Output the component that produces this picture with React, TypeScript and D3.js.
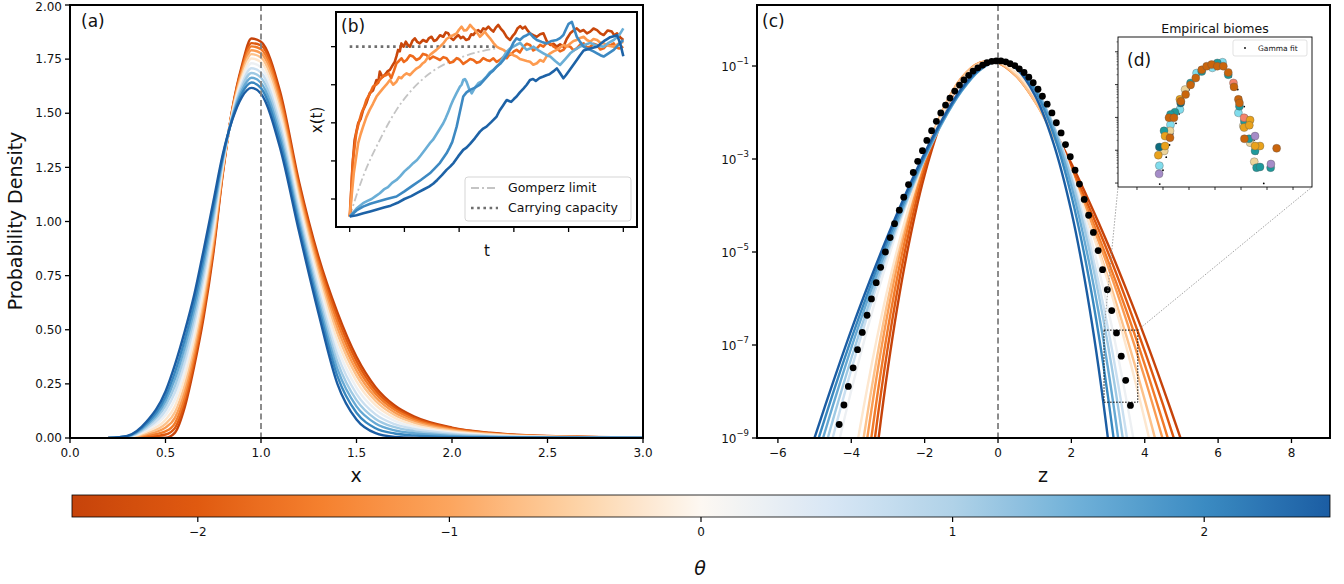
import React from 'react';
import * as d3 from 'd3';

// ---------------- colour map (theta) ----------------
const CMAP_THETA = [-2.5, -2, -1.5, -1, -0.5, 0, 0.5, 1, 1.5, 2, 2.5];
const CMAP_COLORS = ['#c6430a', '#e05a10', '#f5812f', '#fca55e', '#fdd2a5', '#fdf8f2', '#d9e7f5', '#b0d2e8', '#6fb0d8', '#3b8bc2', '#1b5da3'];
const CB_TICKS = [-2, -1, 0, 1, 2];

// ---------------- panel (a) ----------------
const THETA = [-2.5, -2.045, -1.591, -1.136, -0.682, -0.227, 0.227, 0.682, 1.136, 1.591, 2.045, 2.5];
const A_X = [0.2, 0.3, 0.4, 0.5, 0.55, 0.6, 0.65, 0.7, 0.75, 0.8, 0.85, 0.9, 0.95, 1.0, 1.1, 1.2, 1.3, 1.4, 1.5, 1.6, 1.7, 1.8, 2.0, 2.2, 2.5, 3.0];
const DENS_0 = [0, 0, 0, 0.001, 0.025, 0.14, 0.33, 0.56, 0.85, 1.22, 1.52, 1.72, 1.845, 1.83, 1.60, 1.18, 0.84, 0.58, 0.375, 0.235, 0.15, 0.10, 0.048, 0.024, 0.009, 0.002];
const DENS_1 = [0, 0.001, 0.005, 0.016, 0.047, 0.165, 0.353, 0.582, 0.867, 1.226, 1.517, 1.710, 1.824, 1.813, 1.582, 1.164, 0.822, 0.557, 0.355, 0.220, 0.140, 0.093, 0.045, 0.022, 0.008, 0.002];
const DENS_2 = [0, 0.001, 0.011, 0.031, 0.069, 0.189, 0.376, 0.603, 0.884, 1.233, 1.513, 1.700, 1.809, 1.796, 1.564, 1.148, 0.804, 0.534, 0.334, 0.205, 0.130, 0.086, 0.041, 0.021, 0.008, 0.002];
const DENS_3 = [0, 0.002, 0.017, 0.048, 0.094, 0.217, 0.403, 0.628, 0.903, 1.240, 1.509, 1.688, 1.791, 1.777, 1.543, 1.129, 0.783, 0.507, 0.311, 0.188, 0.118, 0.078, 0.037, 0.019, 0.007, 0.002];
const DENS_4 = [0, 0.003, 0.023, 0.065, 0.120, 0.245, 0.429, 0.653, 0.922, 1.247, 1.505, 1.677, 1.773, 1.758, 1.522, 1.111, 0.762, 0.481, 0.288, 0.171, 0.106, 0.070, 0.034, 0.017, 0.006, 0.001];
const DENS_5 = [0, 0.004, 0.029, 0.084, 0.148, 0.277, 0.459, 0.681, 0.944, 1.255, 1.500, 1.663, 1.753, 1.736, 1.499, 1.090, 0.739, 0.451, 0.262, 0.152, 0.093, 0.061, 0.029, 0.015, 0.005, 0.001];
const DENS_6 = [0, 0.005, 0.037, 0.106, 0.179, 0.312, 0.492, 0.712, 0.968, 1.264, 1.495, 1.649, 1.731, 1.712, 1.473, 1.067, 0.713, 0.418, 0.233, 0.131, 0.079, 0.051, 0.024, 0.012, 0.005, 0.001];
const DENS_7 = [0, 0.006, 0.044, 0.127, 0.211, 0.347, 0.525, 0.743, 0.992, 1.273, 1.490, 1.634, 1.708, 1.688, 1.447, 1.044, 0.687, 0.385, 0.204, 0.109, 0.064, 0.042, 0.020, 0.010, 0.004, 0.001];
const DENS_8 = [0, 0.007, 0.052, 0.149, 0.242, 0.382, 0.558, 0.774, 1.016, 1.282, 1.485, 1.620, 1.686, 1.664, 1.421, 1.021, 0.661, 0.352, 0.175, 0.088, 0.050, 0.032, 0.015, 0.007, 0.003, 0.001];
const DENS_9 = [0, 0.008, 0.059, 0.170, 0.274, 0.417, 0.591, 0.805, 1.040, 1.291, 1.480, 1.605, 1.664, 1.640, 1.395, 0.998, 0.635, 0.319, 0.146, 0.067, 0.035, 0.022, 0.010, 0.005, 0.002, 0];
const DENS_10 = [0, 0.009, 0.067, 0.191, 0.305, 0.452, 0.624, 0.836, 1.064, 1.300, 1.475, 1.591, 1.642, 1.616, 1.369, 0.975, 0.609, 0.286, 0.117, 0.045, 0.021, 0.012, 0.005, 0.003, 0.001, 0];
const DENS_11 = [0, 0.01, 0.075, 0.215, 0.34, 0.49, 0.66, 0.87, 1.09, 1.31, 1.47, 1.575, 1.617, 1.59, 1.34, 0.95, 0.58, 0.25, 0.085, 0.022, 0.005, 0.001, 0, 0, 0, 0];
const DENSITIES = [DENS_0, DENS_1, DENS_2, DENS_3, DENS_4, DENS_5, DENS_6, DENS_7, DENS_8, DENS_9, DENS_10, DENS_11];
const A_XTICKS = [0, 0.5, 1, 1.5, 2, 2.5, 3];
const A_YTICKS = [0, 0.25, 0.5, 0.75, 1, 1.25, 1.5, 1.75, 2];

// ---------------- panel (b): trajectories as [t, x(t)] ----------------
const B_XTICKS = [0, 0.2, 0.4, 0.6, 0.8, 1.0];
const B_YTICKS = [0.2, 0.4, 0.6, 0.8, 1.0];
const TR_DO: [number, number][] = [[0, 0.108], [0.002, 0.125], [0.01, 0.37], [0.018, 0.51], [0.031, 0.598], [0.04, 0.62], [0.049, 0.667], [0.06, 0.70], [0.073, 0.755], [0.085, 0.77], [0.098, 0.825], [0.104, 0.81], [0.11, 0.869], [0.12, 0.84], [0.128, 0.851], [0.138, 0.87], [0.147, 0.878], [0.156, 0.90], [0.165, 0.921], [0.171, 0.95], [0.177, 0.983], [0.183, 0.975], [0.189, 1.017], [0.197, 1.0], [0.205, 1.026], [0.212, 1.01], [0.22, 1.0], [0.229, 1.03], [0.238, 1.044], [0.247, 1.025], [0.256, 1.017], [0.268, 1.035], [0.281, 1.026], [0.29, 1.045], [0.299, 1.052], [0.308, 1.03], [0.317, 1.035], [0.33, 1.06], [0.342, 1.052], [0.351, 1.075], [0.36, 1.07], [0.37, 1.045], [0.379, 1.035], [0.388, 1.05], [0.397, 1.061], [0.406, 1.045], [0.415, 1.052], [0.425, 1.035], [0.435, 1.04], [0.444, 1.065], [0.452, 1.061], [0.461, 1.08], [0.47, 1.087], [0.479, 1.075], [0.488, 1.096], [0.497, 1.09], [0.507, 1.105], [0.516, 1.09], [0.525, 1.079], [0.534, 1.1], [0.543, 1.114], [0.552, 1.095], [0.562, 1.079], [0.574, 1.05], [0.586, 1.035], [0.595, 1.055], [0.604, 1.07], [0.613, 1.095], [0.623, 1.108], [0.632, 1.095], [0.641, 1.105], [0.65, 1.085], [0.659, 1.07], [0.671, 1.06], [0.684, 1.052], [0.696, 1.065], [0.708, 1.07], [0.72, 1.03], [0.733, 1.009], [0.745, 1.015], [0.757, 1.0], [0.769, 1.012], [0.781, 1.0], [0.793, 1.04], [0.806, 1.07], [0.818, 1.085], [0.83, 1.096], [0.842, 1.08], [0.855, 1.087], [0.867, 1.07], [0.879, 1.079], [0.891, 1.095], [0.904, 1.087], [0.916, 1.07], [0.928, 1.061], [0.943, 1.085], [0.958, 1.079], [0.967, 1.06], [0.977, 1.07], [0.988, 1.05], [1.0, 1.035]];
const TR_MO: [number, number][] = [[0, 0.108], [0.012, 0.405], [0.024, 0.545], [0.033, 0.60], [0.043, 0.65], [0.052, 0.68], [0.061, 0.72], [0.073, 0.75], [0.085, 0.79], [0.097, 0.80], [0.11, 0.825], [0.122, 0.845], [0.134, 0.851], [0.143, 0.86], [0.152, 0.835], [0.161, 0.87], [0.171, 0.913], [0.18, 0.925], [0.189, 0.939], [0.198, 0.92], [0.208, 0.93], [0.22, 0.955], [0.232, 0.948], [0.244, 0.93], [0.256, 0.939], [0.268, 0.962], [0.281, 0.956], [0.293, 0.935], [0.305, 0.948], [0.317, 0.94], [0.33, 0.93], [0.342, 0.945], [0.354, 0.939], [0.366, 0.915], [0.379, 0.921], [0.391, 0.94], [0.403, 0.93], [0.415, 0.91], [0.427, 0.921], [0.44, 0.935], [0.452, 0.93], [0.464, 0.915], [0.476, 0.921], [0.488, 0.94], [0.50, 0.93], [0.512, 0.925], [0.525, 0.939], [0.537, 0.92], [0.549, 0.93], [0.561, 0.945], [0.574, 0.939], [0.582, 0.955], [0.59, 0.96], [0.60, 0.975], [0.61, 0.983], [0.622, 0.97], [0.635, 1.0], [0.647, 1.015], [0.659, 1.009], [0.671, 0.98], [0.684, 0.991], [0.696, 1.01], [0.708, 1.0], [0.72, 1.02], [0.733, 1.017], [0.745, 1.0], [0.757, 0.991], [0.769, 0.975], [0.781, 0.983], [0.793, 1.005], [0.806, 1.0], [0.818, 0.98], [0.83, 0.991], [0.842, 1.01], [0.855, 1.017], [0.867, 0.995], [0.879, 1.0], [0.891, 1.015], [0.904, 1.009], [0.916, 0.985], [0.928, 0.991], [0.94, 1.01], [0.95, 1.005], [0.965, 1.017], [0.975, 0.995], [0.985, 0.99], [1.0, 1.0]];
const TR_LO: [number, number][] = [[0, 0.108], [0.015, 0.335], [0.031, 0.493], [0.04, 0.54], [0.049, 0.58], [0.061, 0.63], [0.073, 0.668], [0.085, 0.70], [0.098, 0.738], [0.11, 0.76], [0.122, 0.781], [0.134, 0.80], [0.147, 0.825], [0.159, 0.80], [0.171, 0.816], [0.18, 0.84], [0.189, 0.834], [0.198, 0.85], [0.208, 0.86], [0.22, 0.85], [0.232, 0.869], [0.244, 0.885], [0.256, 0.895], [0.265, 0.91], [0.275, 0.921], [0.284, 0.94], [0.293, 0.956], [0.305, 0.97], [0.317, 0.983], [0.33, 1.0], [0.342, 1.017], [0.354, 1.04], [0.366, 1.052], [0.378, 1.06], [0.391, 1.07], [0.4, 1.09], [0.409, 1.105], [0.418, 1.085], [0.427, 1.087], [0.434, 1.1], [0.44, 1.114], [0.449, 1.1], [0.458, 1.087], [0.467, 1.07], [0.476, 1.052], [0.485, 1.065], [0.494, 1.079], [0.503, 1.06], [0.513, 1.044], [0.525, 1.02], [0.537, 1.0], [0.55, 0.99], [0.562, 0.983], [0.574, 0.97], [0.586, 0.965], [0.598, 0.955], [0.61, 0.948], [0.622, 0.935], [0.635, 0.93], [0.647, 0.925], [0.659, 0.921], [0.671, 0.905], [0.684, 0.913], [0.696, 0.93], [0.708, 0.921], [0.72, 0.95], [0.733, 0.965], [0.745, 0.975], [0.757, 0.983], [0.769, 0.995], [0.781, 1.009], [0.793, 1.0], [0.806, 1.017], [0.818, 1.03], [0.83, 1.035], [0.842, 1.045], [0.855, 1.052], [0.867, 1.035], [0.879, 1.026], [0.891, 1.04], [0.904, 1.035], [0.916, 1.02], [0.928, 1.017], [0.945, 1.005], [0.965, 1.0], [0.982, 1.015], [1.0, 1.026]];
const TR_LB: [number, number][] = [[0, 0.108], [0.025, 0.15], [0.049, 0.178], [0.065, 0.19], [0.08, 0.2], [0.095, 0.215], [0.11, 0.23], [0.125, 0.25], [0.14, 0.262], [0.155, 0.285], [0.171, 0.30], [0.185, 0.32], [0.2, 0.345], [0.216, 0.365], [0.232, 0.388], [0.246, 0.405], [0.26, 0.43], [0.276, 0.46], [0.293, 0.493], [0.304, 0.51], [0.315, 0.535], [0.328, 0.565], [0.342, 0.598], [0.351, 0.625], [0.36, 0.655], [0.369, 0.69], [0.378, 0.72], [0.39, 0.755], [0.403, 0.79], [0.409, 0.80], [0.415, 0.825], [0.421, 0.83], [0.427, 0.816], [0.436, 0.78], [0.446, 0.755], [0.458, 0.785], [0.47, 0.808], [0.485, 0.82], [0.50, 0.843], [0.512, 0.865], [0.525, 0.878], [0.537, 0.895], [0.549, 0.913], [0.561, 0.945], [0.574, 0.974], [0.586, 0.99], [0.598, 1.0], [0.61, 1.01], [0.623, 1.02], [0.635, 1.0], [0.647, 0.983], [0.659, 0.99], [0.672, 1.0], [0.69, 0.98], [0.708, 0.965], [0.72, 0.955], [0.733, 0.948], [0.751, 0.925], [0.769, 0.904], [0.788, 0.935], [0.806, 0.965], [0.824, 0.985], [0.842, 1.0], [0.86, 1.01], [0.879, 1.02], [0.903, 1.005], [0.928, 1.0], [0.946, 1.02], [0.965, 1.035], [0.977, 1.05], [0.989, 1.07], [1.0, 1.096]];
const TR_MB: [number, number][] = [[0, 0.108], [0.025, 0.14], [0.049, 0.16], [0.075, 0.175], [0.1, 0.185], [0.135, 0.20], [0.171, 0.213], [0.2, 0.24], [0.23, 0.27], [0.26, 0.30], [0.293, 0.335], [0.31, 0.36], [0.33, 0.39], [0.342, 0.415], [0.354, 0.44], [0.365, 0.47], [0.375, 0.50], [0.383, 0.54], [0.391, 0.58], [0.403, 0.66], [0.415, 0.738], [0.427, 0.76], [0.44, 0.773], [0.458, 0.785], [0.476, 0.80], [0.494, 0.83], [0.513, 0.86], [0.525, 0.875], [0.537, 0.895], [0.55, 0.91], [0.562, 0.93], [0.574, 0.955], [0.586, 0.983], [0.598, 1.02], [0.61, 1.044], [0.622, 1.035], [0.635, 1.052], [0.647, 1.06], [0.659, 1.07], [0.671, 1.05], [0.684, 1.035], [0.702, 1.025], [0.72, 1.017], [0.738, 1.03], [0.757, 1.035], [0.769, 1.045], [0.781, 1.061], [0.79, 1.09], [0.80, 1.12], [0.812, 1.13], [0.821, 1.09], [0.83, 1.052], [0.842, 1.025], [0.855, 1.0], [0.867, 0.99], [0.879, 0.983], [0.891, 0.975], [0.904, 0.965], [0.916, 0.955], [0.928, 0.948], [0.946, 0.965], [0.965, 0.983], [0.982, 1.01], [1.0, 1.035]];
const TR_DB: [number, number][] = [[0, 0.108], [0.025, 0.115], [0.05, 0.125], [0.075, 0.135], [0.1, 0.145], [0.125, 0.155], [0.15, 0.165], [0.175, 0.18], [0.2, 0.2], [0.225, 0.215], [0.25, 0.235], [0.27, 0.25], [0.29, 0.265], [0.305, 0.28], [0.32, 0.30], [0.337, 0.325], [0.354, 0.353], [0.367, 0.37], [0.38, 0.39], [0.397, 0.425], [0.415, 0.458], [0.427, 0.47], [0.44, 0.49], [0.458, 0.52], [0.476, 0.554], [0.488, 0.57], [0.50, 0.58], [0.518, 0.605], [0.537, 0.633], [0.548, 0.665], [0.56, 0.69], [0.567, 0.705], [0.574, 0.72], [0.582, 0.715], [0.59, 0.71], [0.6, 0.725], [0.61, 0.738], [0.622, 0.76], [0.635, 0.78], [0.647, 0.80], [0.659, 0.825], [0.67, 0.83], [0.68, 0.82], [0.694, 0.835], [0.708, 0.843], [0.719, 0.85], [0.73, 0.855], [0.744, 0.87], [0.757, 0.886], [0.769, 0.86], [0.781, 0.834], [0.79, 0.85], [0.80, 0.87], [0.815, 0.9], [0.83, 0.93], [0.842, 0.955], [0.855, 0.98], [0.867, 0.985], [0.88, 0.99], [0.892, 0.995], [0.904, 1.0], [0.917, 1.015], [0.93, 1.03], [0.941, 1.04], [0.952, 1.05], [0.965, 1.055], [0.977, 1.06], [0.984, 1.035], [0.99, 1.01], [1.0, 0.95]];
const TRAJS = [TR_DO, TR_MO, TR_LO, TR_LB, TR_MB, TR_DB];
const TRAJ_COLORS = ['#c9470b', '#ee6a1c', '#fd9b50', '#6aaed6', '#3d89c2', '#1d62a6'];
const GOMP_T = [0, 0.049, 0.11, 0.171, 0.232, 0.293, 0.354, 0.415, 0.476, 0.537];
const GOMP_V = [0.108, 0.318, 0.51, 0.668, 0.781, 0.86, 0.913, 0.948, 0.974, 0.991];
const CAP_T = [0, 0.537];
const CAP_V = [1, 1];

// ---------------- panel (c) ----------------
const C_Z = [-5, -4.5, -4, -3.5, -3, -2.5, -2, -1.5, -1, -0.5, 0, 0.5, 1, 1.5, 2, 2.5, 3, 3.5, 4, 4.5, 5];
const LOGP_0 = [-27.1, -20.2, -14.82, -10.67, -7.49, -5.10, -3.34, -2.11, -1.33, -0.95, -0.92, -1.19, -1.68, -2.34, -3.10, -3.94, -4.84, -5.81, -6.83, -7.92, -9.06];
const LOGP_1 = [-24.3, -18.36, -13.62, -9.91, -7.03, -4.84, -3.20, -2.04, -1.30, -0.94, -0.92, -1.20, -1.71, -2.39, -3.19, -4.07, -5.01, -6.04, -7.13, -8.29, -9.51];
const LOGP_2 = [-22.1, -16.85, -12.62, -9.27, -6.64, -4.61, -3.07, -1.98, -1.27, -0.93, -0.93, -1.22, -1.75, -2.45, -3.27, -4.19, -5.19, -6.26, -7.42, -8.67, -9.98];
const LOGP_3 = [-19.84, -15.33, -11.64, -8.66, -6.28, -4.42, -2.99, -1.94, -1.26, -0.93, -0.93, -1.22, -1.75, -2.46, -3.31, -4.27, -5.32, -6.47, -7.71, -9.05, -10.48];
const LOGP_4 = [-17.96, -14.08, -10.85, -8.19, -6.02, -4.29, -2.94, -1.94, -1.27, -0.94, -0.92, -1.21, -1.75, -2.49, -3.39, -4.41, -5.55, -6.81, -8.18, -9.68, -11.29];
const LOGP_5 = [-15.64, -12.54, -9.89, -7.65, -5.76, -4.22, -2.97, -2.01, -1.33, -0.96, -0.91, -1.15, -1.66, -2.40, -3.32, -4.41, -5.65, -7.05, -8.61, -10.34, -12.23];
const LOGP_6 = [-11.46, -9.64, -7.98, -6.48, -5.15, -3.98, -2.96, -2.11, -1.46, -1.04, -0.89, -1.04, -1.50, -2.26, -3.30, -4.62, -6.23, -8.18, -10.48, -13.19, -16.33];
const LOGP_7 = [-10.54, -8.98, -7.53, -6.21, -5.01, -3.94, -2.98, -2.16, -1.51, -1.07, -0.89, -1.02, -1.47, -2.25, -3.36, -4.82, -6.65, -8.92, -11.68, -15.02, -18.99];
const LOGP_8 = [-10.03, -8.61, -7.29, -6.07, -4.94, -3.92, -3.00, -2.19, -1.54, -1.09, -0.89, -1.00, -1.45, -2.26, -3.43, -5.00, -7.01, -9.55, -12.71, -16.6, -21.3];
const LOGP_9 = [-9.61, -8.30, -7.06, -5.91, -4.85, -3.87, -2.97, -2.19, -1.55, -1.09, -0.89, -1.01, -1.47, -2.32, -3.58, -5.29, -7.51, -10.37, -13.98, -18.5, -24.1];
const LOGP_10 = [-9.28, -8.04, -6.87, -5.77, -4.74, -3.80, -2.93, -2.16, -1.53, -1.08, -0.89, -1.02, -1.52, -2.43, -3.79, -5.66, -8.12, -11.32, -15.3, -20.5, -27.1];
const LOGP_11 = [-8.99, -7.81, -6.68, -5.63, -4.64, -3.72, -2.87, -2.12, -1.49, -1.06, -0.89, -1.06, -1.62, -2.63, -4.13, -6.23, -9.03, -12.72, -17.5, -23.7, -31.6];
const LOGPS = [LOGP_0, LOGP_1, LOGP_2, LOGP_3, LOGP_4, LOGP_5, LOGP_6, LOGP_7, LOGP_8, LOGP_9, LOGP_10, LOGP_11];
const DOT_Z = [-4.33, -4.20, -4.08, -3.95, -3.83, -3.70, -3.57, -3.45, -3.32, -3.20, -3.07, -2.94, -2.82, -2.69, -2.57, -2.44, -2.31, -2.19, -2.06, -1.94, -1.81, -1.68, -1.56, -1.43, -1.31, -1.18, -1.05, -0.93, -0.80, -0.68, -0.55, -0.42, -0.30, -0.17, -0.05, 0.08, 0.21, 0.33, 0.46, 0.58, 0.71, 0.84, 0.96, 1.09, 1.21, 1.34, 1.47, 1.59, 1.72, 1.84, 1.97, 2.10, 2.22, 2.35, 2.47, 2.60, 2.73, 2.85, 2.98, 3.10, 3.23, 3.36, 3.48, 3.61];
const DOT_LOGP = [-8.71, -8.29, -7.89, -7.49, -7.10, -6.73, -6.36, -6.01, -5.66, -5.33, -5.00, -4.69, -4.39, -4.10, -3.82, -3.55, -3.29, -3.05, -2.82, -2.60, -2.39, -2.19, -2.01, -1.84, -1.69, -1.54, -1.41, -1.30, -1.20, -1.11, -1.04, -0.98, -0.93, -0.90, -0.89, -0.89, -0.91, -0.95, -0.99, -1.06, -1.14, -1.24, -1.36, -1.50, -1.65, -1.82, -2.01, -2.22, -2.44, -2.69, -2.95, -3.24, -3.54, -3.87, -4.21, -4.58, -4.97, -5.38, -5.81, -6.26, -6.74, -7.24, -7.76, -8.30];
const C_XTICKS = [-6, -4, -2, 0, 2, 4, 6, 8];
const C_YTICK_EXP = [-1, -3, -5, -7, -9];
const ZOOM_BOX_Z = [2.89, 3.81];
const ZOOM_BOX_LOGP = [-8.23, -6.68];

// ---------------- panel (d) ----------------
const D_X = [-2.14, -2.18, -2.14, -2.15, -1.92, -1.95, -1.96, -1.92, -1.73, -1.71, -1.73, -1.77, -1.58, -1.54, -1.71, -1.35, -1.35, -1.32, -1.31, -1.13, -1.15, -0.94, -0.94, -0.74, -0.71, -0.51, -0.51, -0.32, -0.10, -0.13, 0.09, 0.09, 0.29, 0.32, 0.51, 0.51, 0.71, 0.73, 0.90, 0.94, 0.94, 0.90, 1.12, 1.13, 1.09, 1.12, 1.13, 1.31, 1.35, 1.32, 1.54, 1.35, 1.73, 1.54, 1.51, 1.60, 1.73, 2.15, 2.14, 2.37, 1.54];
const D_LOGY = [-3.90, -4.15, -4.47, -4.72, -3.87, -4.02, -3.41, -3.57, -3.41, -3.23, -3.62, -3.01, -3.01, -2.84, -2.91, -2.76, -2.45, -2.56, -2.51, -2.30, -2.15, -1.95, -2.01, -1.80, -1.65, -1.55, -1.60, -1.44, -1.49, -1.39, -1.34, -1.44, -1.32, -1.44, -1.63, -1.70, -1.95, -2.07, -2.45, -2.56, -2.66, -2.86, -3.01, -3.11, -3.26, -3.31, -3.65, -3.65, -3.08, -3.24, -3.57, -3.77, -3.87, -4.02, -4.35, -4.53, -4.51, -4.42, -4.53, -3.94, -3.87];
const D_BIOME = ['darkteal', 'orange', 'lightcyan', 'purple', 'orange', 'tan', 'teal', 'orange', 'tan', 'lightcyan', 'darkorange', 'darkorange', 'darkorange', 'teal', 'teal', 'lightcyan', 'orange', 'darkteal', 'darkorange', 'darkorange', 'tan', 'teal', 'darkorange', 'darkorange', 'lightcyan', 'darkorange', 'teal', 'darkorange', 'lightcyan', 'darkorange', 'teal', 'darkorange', 'lightcyan', 'darkorange', 'darkorange', 'teal', 'salmon', 'darkorange', 'darkorange', 'darkorange', 'teal', 'lightcyan', 'salmon', 'teal', 'tan', 'orange', 'darkorange', 'teal', 'orange', 'orange', 'purple', 'tan', 'orange', 'teal', 'tan', 'teal', 'teal', 'purple', 'teal', 'darkorange', 'orange'];
const BIOME_ORDER = ['lightcyan', 'tan', 'teal', 'darkteal', 'purple', 'salmon', 'orange', 'darkorange'];
const BIOME_COLORS: Record<string, string> = {
  teal: '#1e9a9c', darkteal: '#0d6b7d', lightcyan: '#80dcec', orange: '#e9a21c',
  darkorange: '#c9650c', salmon: '#f4836a', tan: '#ecd49a', purple: '#a58cc8',
};
const GAMMA_X = [-2.125, -2.0, -1.875, -1.75, -1.625, -1.5, -1.375, -1.25, -1.125, -1.0, -0.875, -0.75, -0.625, -0.5, -0.375, -0.25, -0.125, 0, 0.125, 0.25, 0.375, 0.5, 0.625, 0.75, 0.875, 1.0, 1.125, 1.25, 1.375, 1.5, 1.625, 1.75, 1.875];
const GAMMA_LOGY = [-5.03, -4.61, -4.21, -3.84, -3.50, -3.18, -2.89, -2.62, -2.38, -2.16, -1.97, -1.81, -1.67, -1.55, -1.46, -1.40, -1.36, -1.35, -1.37, -1.42, -1.50, -1.61, -1.76, -1.94, -2.15, -2.39, -2.67, -2.98, -3.32, -3.69, -4.10, -4.54, -5.01];
const D_XTICKS = [-3, -2, -1, 0, 1, 2, 3];
const D_YTICK_EXP = [-1, -2, -3, -4, -5];

const FONT = 'DejaVu Sans, sans-serif';
const TXT = '#111';

const minus = (v: number) => (v < 0 ? '\u2212' + Math.abs(v) : String(v));

export default function App() {
  const cmap = d3.scaleLinear<string>().domain(CMAP_THETA).range(CMAP_COLORS).interpolate(d3.interpolateRgb);

  const xA = d3.scaleLinear().domain([0, 3]).range([70, 643]);
  const yA = d3.scaleLinear().domain([0, 2]).range([438, 5]);
  const xB = d3.scaleLinear().domain([-0.05, 1.05]).range([336, 637]);
  const yB = d3.scaleLinear().domain([0.053, 1.182]).range([227, 12]);
  const xC = d3.scaleLinear().domain([-6.57, 9.05]).range([757, 1330]);
  const yC = d3.scaleLog().domain([1e-9, Math.pow(10, 0.312)]).range([438, 5]);
  const xD = d3.scaleLinear().domain([-3.73, 3.73]).range([1118, 1312]);
  const yD = d3.scaleLog().domain([Math.pow(10, -5.12), Math.pow(10, -0.55)]).range([187, 37]);
  const xCb = d3.scaleLinear().domain([-2.5, 2.5]).range([72, 1330]);

  const lineA = d3.line<number>().x((_, j) => xA(A_X[j])).y((d) => yA(d)).curve(d3.curveMonotoneX);
  const lineC = d3.line<number>().x((_, j) => xC(C_Z[j])).y((d) => yC(Math.pow(10, d))).curve(d3.curveCatmullRom.alpha(0.5));
  const lineTraj = d3.line<[number, number]>().x((d) => xB(d[0])).y((d) => yB(d[1]));
  const lineRef = (T: number[], V: number[], smooth: boolean) => {
    const l = d3.line<number>().x((_, j) => xB(T[j])).y((d) => yB(d));
    return (smooth ? l.curve(d3.curveMonotoneX) : l)(V) || '';
  };

  const cbStops = d3.range(0, 41).map((k) => ({ off: (k / 40) * 100, c: cmap(-2.5 + (5 * k) / 40) }));

  const dPoints = D_X.map((x, i) => ({ x, y: D_LOGY[i], b: D_BIOME[i] }))
    .sort((a, b) => BIOME_ORDER.indexOf(a.b) - BIOME_ORDER.indexOf(b.b));

  const boxX0 = xC(ZOOM_BOX_Z[0]);
  const boxX1 = xC(ZOOM_BOX_Z[1]);
  const boxY0 = yC(Math.pow(10, ZOOM_BOX_LOGP[1]));
  const boxY1 = yC(Math.pow(10, ZOOM_BOX_LOGP[0]));

  const minorD: number[] = [];
  D_YTICK_EXP.forEach((e) => {
    for (let m = 2; m <= 9; m++) {
      const v = m * Math.pow(10, e);
      if (v < Math.pow(10, -0.55) && v > Math.pow(10, -5.12)) minorD.push(v);
    }
  });

  return (
    <svg width={1344} height={584} style={{ position: 'absolute', left: 0, top: 0, background: '#fff' }} fontFamily={FONT}>
      <defs>
        <clipPath id="clipA"><rect x={70} y={5} width={573} height={433} /></clipPath>
        <clipPath id="clipC"><rect x={757} y={5} width={573} height={433} /></clipPath>
        <clipPath id="clipB"><rect x={336} y={12} width={301} height={215} /></clipPath>
        <linearGradient id="cbGrad" x1="0" x2="1" y1="0" y2="0">
          {cbStops.map((s, i) => <stop key={i} offset={`${s.off}%`} stopColor={s.c} />)}
        </linearGradient>
      </defs>
      <rect x={0} y={0} width={1344} height={584} fill="#fff" />

      {/* ================= panel (a) ================= */}
      <g clipPath="url(#clipA)">
        {DENSITIES.map((arr, i) => (
          <path key={i} d={lineA(arr) || ''} fill="none" stroke={cmap(THETA[i])} strokeWidth={2.4} />
        ))}
        <line x1={xA(1)} x2={xA(1)} y1={5} y2={438} stroke="#808080" strokeWidth={1.8} strokeDasharray="6,3.5" />
      </g>
      <rect x={70} y={5} width={573} height={433} fill="none" stroke="#000" strokeWidth={2} />
      {A_XTICKS.map((t) => (
        <g key={t}>
          <line x1={xA(t)} x2={xA(t)} y1={438} y2={443} stroke="#000" strokeWidth={1.3} />
          <text x={xA(t)} y={457} fontSize={12} textAnchor="middle" fill={TXT}>{t.toFixed(1)}</text>
        </g>
      ))}
      {A_YTICKS.map((t) => (
        <g key={t}>
          <line x1={65} x2={70} y1={yA(t)} y2={yA(t)} stroke="#000" strokeWidth={1.3} />
          <text x={62} y={Math.max(yA(t), 7)} dy="0.35em" fontSize={12} textAnchor="end" fill={TXT}>{t.toFixed(2)}</text>
        </g>
      ))}
      <text x={356} y={482} fontSize={19} textAnchor="middle" fill={TXT}>x</text>
      <text transform="translate(22,221) rotate(-90)" fontSize={19} textAnchor="middle" fill={TXT}>Probability Density</text>
      <text x={81} y={27} fontSize={17} fill={TXT}>(a)</text>

      {/* ================= panel (b) inset ================= */}
      <rect x={336} y={12} width={301} height={215} fill="#fff" />
      <g clipPath="url(#clipB)">
        <path d={lineRef(GOMP_T, GOMP_V, true)} fill="none" stroke="#c4c4c4" strokeWidth={1.8} strokeDasharray="8,3,2,3" />
        <path d={lineRef(CAP_T, CAP_V, false)} fill="none" stroke="#6e6e6e" strokeWidth={2.6} strokeDasharray="2.6,3.6" />
        {TRAJS.map((tr, i) => (
          <path key={i} d={lineTraj(tr) || ''} fill="none" stroke={TRAJ_COLORS[i]} strokeWidth={2.6} strokeLinejoin="round" />
        ))}
      </g>
      <rect x={336} y={12} width={301} height={215} fill="none" stroke="#000" strokeWidth={2} />
      {B_XTICKS.map((t) => (
        <line key={t} x1={xB(t)} x2={xB(t)} y1={227} y2={232} stroke="#000" strokeWidth={1.3} />
      ))}
      {B_YTICKS.map((t) => (
        <line key={t} x1={331} x2={336} y1={yB(t)} y2={yB(t)} stroke="#000" strokeWidth={1.3} />
      ))}
      <text transform="translate(322,120) rotate(-90)" fontSize={15} textAnchor="middle" fill={TXT}>x(t)</text>
      <text x={487} y={256} fontSize={15} textAnchor="middle" fill={TXT}>t</text>
      <text x={341} y={32} fontSize={17} fill={TXT}>(b)</text>
      <rect x={465} y={177} width={166} height={44} rx={3} fill="#fff" fillOpacity={0.85} stroke="#d0d0d0" strokeWidth={0.9} />
      <line x1={471} x2={498} y1={188} y2={188} stroke="#c4c4c4" strokeWidth={1.8} strokeDasharray="8,3,2,3" />
      <text x={508} y={188} dy="0.35em" fontSize={12.5} fill={TXT}>Gomperz limit</text>
      <line x1={471} x2={498} y1={208} y2={208} stroke="#6e6e6e" strokeWidth={2.6} strokeDasharray="2.6,3.6" />
      <text x={508} y={208} dy="0.35em" fontSize={12.5} fill={TXT}>Carrying capacity</text>

      {/* ================= panel (c) ================= */}
      <g clipPath="url(#clipC)">
        {LOGPS.map((arr, i) => (
          <path key={i} d={lineC(arr) || ''} fill="none" stroke={cmap(THETA[i])} strokeWidth={2.4} />
        ))}
        <line x1={xC(0)} x2={xC(0)} y1={5} y2={438} stroke="#808080" strokeWidth={1.8} strokeDasharray="6,3.5" />
        {DOT_Z.map((z, i) => (
          <circle key={i} cx={xC(z)} cy={yC(Math.pow(10, DOT_LOGP[i]))} r={3.4} fill="#000" />
        ))}
        <rect x={boxX0} y={boxY0} width={boxX1 - boxX0} height={boxY1 - boxY0} fill="none" stroke="#000" strokeWidth={1} strokeDasharray="1.5,1.5" />
      </g>
      <line x1={boxX0} y1={boxY0} x2={1118} y2={187} stroke="#8a8a8a" strokeWidth={0.8} strokeDasharray="1.5,1.5" />
      <line x1={boxX1} y1={boxY0} x2={1312} y2={187} stroke="#8a8a8a" strokeWidth={0.8} strokeDasharray="1.5,1.5" />
      <rect x={757} y={5} width={573} height={433} fill="none" stroke="#000" strokeWidth={2} />
      {C_XTICKS.map((t) => (
        <g key={t}>
          <line x1={xC(t)} x2={xC(t)} y1={438} y2={443} stroke="#000" strokeWidth={1.3} />
          <text x={xC(t)} y={457} fontSize={12} textAnchor="middle" fill={TXT}>{minus(t)}</text>
        </g>
      ))}
      {C_YTICK_EXP.map((e) => (
        <g key={e}>
          <line x1={752} x2={757} y1={yC(Math.pow(10, e))} y2={yC(Math.pow(10, e))} stroke="#000" strokeWidth={1.3} />
          <text x={749} y={yC(Math.pow(10, e)) + 5} fontSize={12} textAnchor="end" fill={TXT}>
            10<tspan fontSize={8.5} dy={-7}>{minus(e)}</tspan>
          </text>
        </g>
      ))}
      <text x={1043} y={482} fontSize={19} textAnchor="middle" fill={TXT}>z</text>
      <text x={762} y={27} fontSize={17} fill={TXT}>(c)</text>

      {/* ================= panel (d) inset ================= */}
      <rect x={1118} y={37} width={194} height={150} fill="#fff" stroke="#000" strokeWidth={0.9} />
      {GAMMA_X.map((x, i) => (
        <circle key={i} cx={xD(x)} cy={yD(Math.pow(10, GAMMA_LOGY[i]))} r={0.9} fill="#000" />
      ))}
      {dPoints.map((p, i) => (
        <circle key={i} cx={xD(p.x)} cy={yD(Math.pow(10, p.y))} r={4} fill={BIOME_COLORS[p.b]} stroke="#555" strokeWidth={0.35} />
      ))}
      {D_XTICKS.map((t) => (
        <line key={t} x1={xD(t)} x2={xD(t)} y1={187} y2={190} stroke="#000" strokeWidth={0.8} />
      ))}
      {D_YTICK_EXP.map((e) => (
        <line key={e} x1={1115} x2={1118} y1={yD(Math.pow(10, e))} y2={yD(Math.pow(10, e))} stroke="#000" strokeWidth={0.8} />
      ))}
      {minorD.map((v, i) => (
        <line key={i} x1={1116.5} x2={1118} y1={yD(v)} y2={yD(v)} stroke="#000" strokeWidth={0.5} />
      ))}
      <text x={1215} y={33} fontSize={12.5} textAnchor="middle" fill={TXT}>Empirical biomes</text>
      <text x={1127} y={66} fontSize={17} fill={TXT}>(d)</text>
      <rect x={1233} y={40} width={74} height={16} rx={2} fill="#fff" stroke="#d6d6d6" strokeWidth={0.7} />
      <circle cx={1245} cy={48} r={0.9} fill="#000" />
      <text x={1258} y={48} dy="0.35em" fontSize={7.5} fill={TXT}>Gamma fit</text>

      {/* ================= colour bar ================= */}
      <rect x={72} y={495} width={1258} height={22} fill="url(#cbGrad)" stroke="#000" strokeWidth={0.8} />
      {CB_TICKS.map((t) => (
        <g key={t}>
          <line x1={xCb(t)} x2={xCb(t)} y1={517} y2={522} stroke="#000" strokeWidth={1.2} />
          <text x={xCb(t)} y={536} fontSize={12} textAnchor="middle" fill={TXT}>{minus(t)}</text>
        </g>
      ))}
      <text x={700} y={575} fontSize={19} fontStyle="italic" textAnchor="middle" fill={TXT}>θ</text>
    </svg>
  );
}
